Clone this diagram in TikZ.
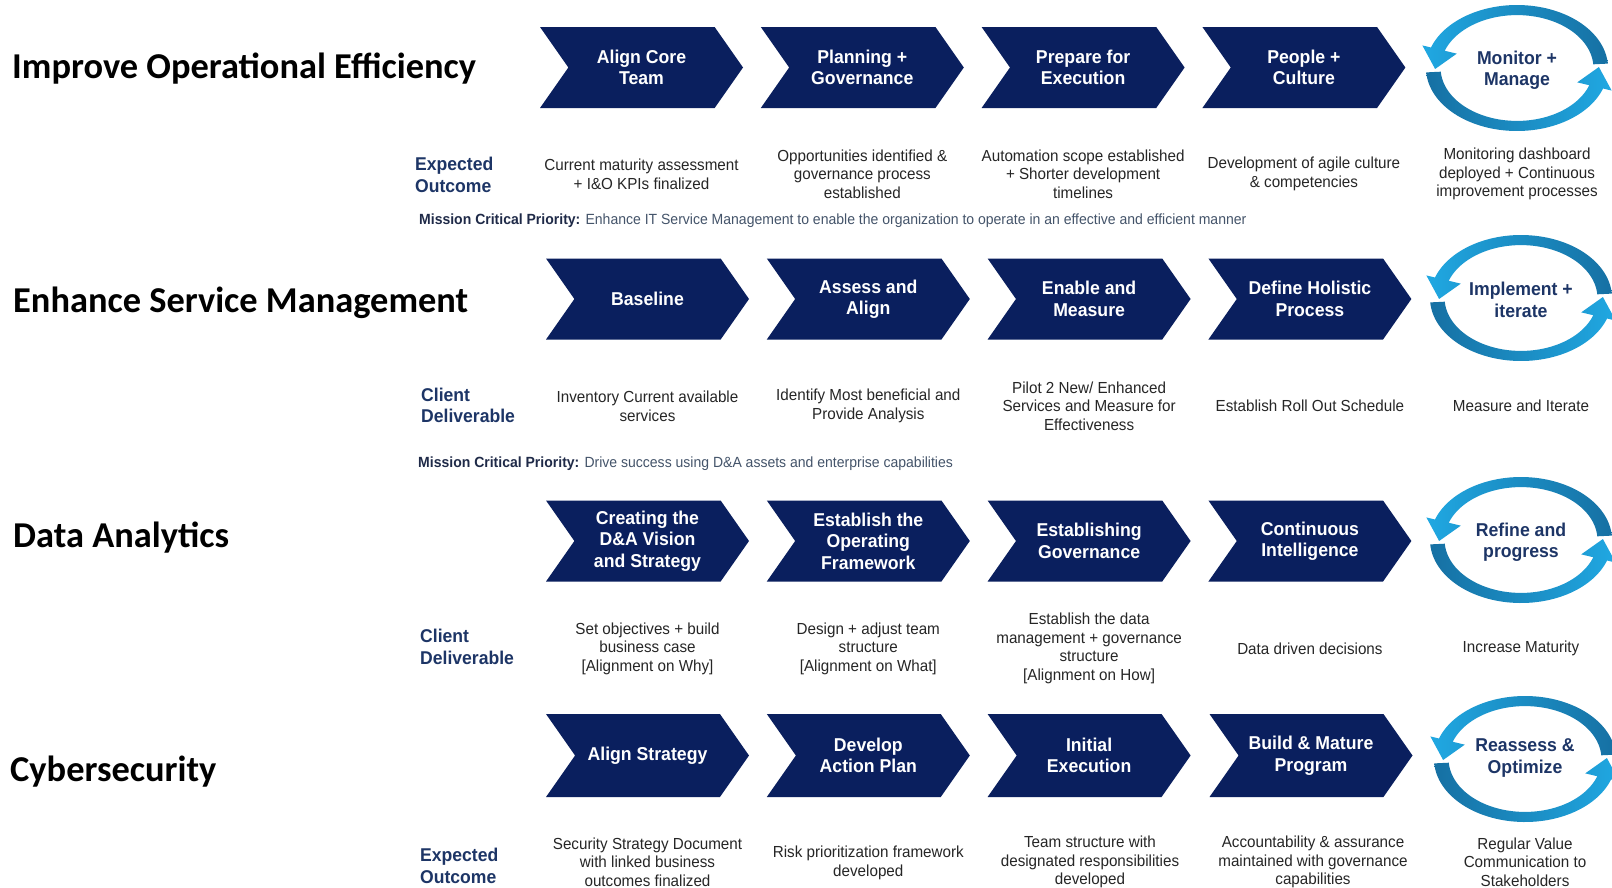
\documentclass[tikz,border=0pt]{standalone}
\usepackage{fontspec}
\setmainfont{Liberation Sans}
\newfontfamily\bodyfont{Liberation Sans}[FakeStretch=0.95]
\newfontfamily\headfont{Carlito}
\usetikzlibrary{shapes.symbols}

\definecolor{navy}{HTML}{0A1F5E}
\definecolor{labelblue}{HTML}{1D3566}
\definecolor{bodygray}{HTML}{262626}
\definecolor{slate}{HTML}{44546A}
\definecolor{slatebold}{HTML}{1F2A48}
\definecolor{ringdark}{HTML}{1670A3}
\definecolor{ringlight}{HTML}{20A8E2}

% two curved arrows chasing each other round an ellipse centred at (#1,#2)
\newcommand\cyclearrows[2]{%
  \shade[left color=ringlight, right color=ringdark]
    plot[domain=4:161, samples=60] ({#1+91*cos(\x)},{#2-63*sin(\x)})
    -- ({#1+1.1*91*cos(161)},{#2-1.1*63*sin(161)})
    -- ({#1+0.9*91*cos(181)},{#2-0.9*63*sin(181)})
    -- ({#1+0.7*91*cos(161)},{#2-0.7*63*sin(161)})
    -- plot[domain=161:4, samples=60] ({#1+0.84*91*cos(\x)},{#2-0.84*63*sin(\x)})
    -- cycle;
  \shade[left color=ringdark, right color=ringlight]
    plot[domain=184:341, samples=60] ({#1+91*cos(\x)},{#2-63*sin(\x)})
    -- ({#1+1.1*91*cos(341)},{#2-1.1*63*sin(341)})
    -- ({#1+0.9*91*cos(361)},{#2-0.9*63*sin(361)})
    -- ({#1+0.7*91*cos(341)},{#2-0.7*63*sin(341)})
    -- plot[domain=341:184, samples=60] ({#1+0.84*91*cos(\x)},{#2-0.84*63*sin(\x)})
    -- cycle;
}

\begin{document}
\begin{tikzpicture}[x=1pt,y=-1pt,
  chev/.style={signal, signal to=east, signal from=west,
    signal pointer angle=110, fill=navy, draw=none,
    minimum width=203pt, minimum height=81pt, inner sep=0pt,
    text=white, align=center,
    font=\bodyfont\bfseries\fontsize{18.6}{21.5}\selectfont},
  ringtxt/.style={text=labelblue, align=center, inner sep=0pt,
    font=\bodyfont\bfseries\fontsize{18.6}{21.5}\selectfont},
  desc/.style={text=bodygray, align=center, inner sep=0pt,
    font=\bodyfont\fontsize{16}{18.6}\selectfont},
  lbl/.style={text=labelblue, align=left, anchor=west, inner sep=0pt,
    font=\bodyfont\bfseries\fontsize{18.5}{21.5}\selectfont},
  heading/.style={anchor=west, inner sep=0pt, text=black,
    font=\headfont\bfseries\fontsize{36.4}{40}\selectfont},
  mission/.style={anchor=west, inner sep=0pt, text=slate,
    font=\bodyfont\fontsize{14.75}{17}\selectfont},
]
\useasboundingbox (0,0) rectangle (1612,887);
\fill[white] (0,0) rectangle (1612,887);

% ---------- row 1 : Improve Operational Efficiency ----------
\node[heading] (h1) at (12,69) {Improve Operational Efficiency};
\node[chev] (c11) at (641.5,67.5) {Align Core\\Team};
\node[chev] (c12) at (862.3,67.5) {Planning +\\Governance};
\node[chev] (c13) at (1083.1,67.5) {Prepare for\\Execution};
\node[chev] (c14) at (1303.9,67.5) {People +\\Culture};
\cyclearrows{1517}{68}
\node[ringtxt] (r1) at (1517,70) {Monitor +\\Manage};

\node[lbl] (l1) at (415,175) {Expected\\Outcome};
\node[desc] (d11) at (641.5,174) {Current maturity assessment\\+ I\&O KPIs finalized};
\node[desc] (d12) at (862.3,174) {Opportunities identified \&\\governance process\\established};
\node[desc] (d13) at (1083.1,174) {Automation scope established\\+ Shorter development\\timelines};
\node[desc] (d14) at (1303.9,174) {Development of agile culture\\\& competencies};
\node[desc] (d15) at (1517,174) {Monitoring dashboard\\deployed + Continuous\\improvement processes};
\node[mission] (m1) at (419,221) {{\color{slatebold}\bfseries Mission Critical Priority:} Enhance IT Service Management to enable the organization to operate in an effective and efficient manner};

% ---------- row 2 : Enhance Service Management ----------
\node[heading] (h2) at (13,303) {Enhance Service Management};
\node[chev] (c21) at (647.5,299) {Baseline};
\node[chev] (c22) at (868.3,299) {Assess and\\Align};
\node[chev] (c23) at (1089.1,299) {Enable and\\Measure};
\node[chev] (c24) at (1309.9,299) {Define Holistic\\Process};
\cyclearrows{1521}{298}
\node[ringtxt] (r2) at (1521,300) {Implement +\\iterate};

\node[lbl] (l2) at (421,405.5) {Client\\Deliverable};
\node[desc] (d21) at (647.5,406) {Inventory Current available\\services};
\node[desc] (d22) at (868.3,406) {Identify Most beneficial and\\Provide Analysis};
\node[desc] (d23) at (1089.1,406) {Pilot 2 New/ Enhanced\\Services and Measure for\\Effectiveness};
\node[desc] (d24) at (1309.9,406) {Establish Roll Out Schedule};
\node[desc] (d25) at (1521,406) {Measure and Iterate};
\node[mission] (m2) at (418,464) {{\color{slatebold}\bfseries Mission Critical Priority:} Drive success using D\&A assets and enterprise capabilities};

% ---------- row 3 : Data Analytics ----------
\node[heading] (h3) at (13,538) {Data Analytics};
\node[chev] (c31) at (647.5,541) {Creating the\\D\&A Vision\\and Strategy};
\node[chev] (c32) at (868.3,541) {Establish the\\Operating\\Framework};
\node[chev] (c33) at (1089.1,541) {Establishing\\Governance};
\node[chev] (c34) at (1309.9,541) {Continuous\\Intelligence};
\cyclearrows{1521}{540}
\node[ringtxt] (r3) at (1521,542) {Refine and\\progress};

\node[lbl] (l3) at (420,647) {Client\\Deliverable};
\node[desc] (d31) at (647.5,648.5) {Set objectives + build\\business case\\{[}Alignment on Why{]}};
\node[desc] (d32) at (868.3,648.5) {Design + adjust team\\structure\\{[}Alignment on What{]}};
\node[desc] (d33) at (1089.1,648.5) {Establish the data\\management + governance\\structure\\{[}Alignment on How{]}};
\node[desc] (d34) at (1309.9,648.5) {Data driven decisions};
\node[desc] (d35) at (1521,648.5) {Increase Maturity};

% ---------- row 4 : Cybersecurity ----------
\node[heading] (h4) at (10,772) {Cybersecurity};
\node[chev, minimum height=83pt] (c41) at (647.5,755.5) {Align Strategy};
\node[chev, minimum height=83pt] (c42) at (868.3,755.5) {Develop\\Action Plan};
\node[chev, minimum height=83pt] (c43) at (1089.1,755.5) {Initial\\Execution};
\node[chev, minimum height=83pt] (c44) at (1311,755.5) {Build \& Mature\\Program};
\cyclearrows{1525}{759}
\node[ringtxt] (r4) at (1525,758) {Reassess \&\\Optimize};

\node[lbl] (l4) at (420,866) {Expected\\Outcome};
\node[desc] (d41) at (647.5,862) {Security Strategy Document\\with linked business\\outcomes finalized};
\node[desc] (d42) at (868.3,863) {Risk prioritization framework\\developed};
\node[desc] (d43) at (1090,862) {Team structure with\\designated responsibilities\\developed};
\node[desc] (d44) at (1313,862) {Accountability \& assurance\\maintained with governance\\capabilities};
\node[desc] (d45) at (1525,862) {Regular Value\\Communication to\\Stakeholders};
\end{tikzpicture}
\end{document}
